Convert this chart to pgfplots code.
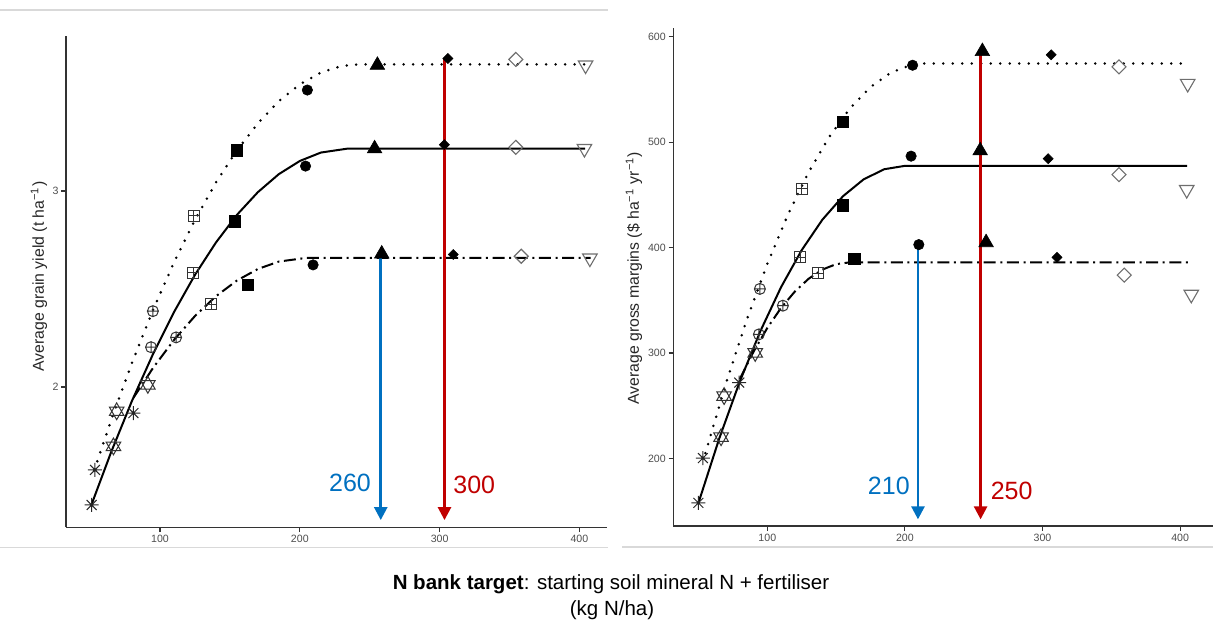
\documentclass[border=0pt]{standalone}
\usepackage{fontspec}
\setmainfont{Liberation Sans}
\usepackage{pgfplots}
\pgfplotsset{compat=1.18}
\usepackage{pgfplotstable}
\usetikzlibrary{arrows.meta}

\definecolor{arrblue}{HTML}{0070C0}
\definecolor{arrred}{HTML}{C00000}
\definecolor{ticktxt}{HTML}{4D4D4D}
\definecolor{axln}{HTML}{333333}
\definecolor{openmk}{HTML}{6E6E6E}

% ---------- custom marks (R pch 8, 11, 10, 12, 18, 5) ----------
\pgfdeclareplotmark{ast8}{%
  \pgfpathmoveto{\pgfpoint{-\pgfplotmarksize}{0pt}}\pgfpathlineto{\pgfpoint{\pgfplotmarksize}{0pt}}%
  \pgfpathmoveto{\pgfpoint{0pt}{-\pgfplotmarksize}}\pgfpathlineto{\pgfpoint{0pt}{\pgfplotmarksize}}%
  \pgfpathmoveto{\pgfpoint{-0.7071\pgfplotmarksize}{-0.7071\pgfplotmarksize}}\pgfpathlineto{\pgfpoint{0.7071\pgfplotmarksize}{0.7071\pgfplotmarksize}}%
  \pgfpathmoveto{\pgfpoint{-0.7071\pgfplotmarksize}{0.7071\pgfplotmarksize}}\pgfpathlineto{\pgfpoint{0.7071\pgfplotmarksize}{-0.7071\pgfplotmarksize}}%
  \pgfusepathqstroke}
\pgfdeclareplotmark{hexa}{%
  \pgfpathmoveto{\pgfpoint{0pt}{\pgfplotmarksize}}%
  \pgfpathlineto{\pgfpoint{-0.866\pgfplotmarksize}{-0.5\pgfplotmarksize}}%
  \pgfpathlineto{\pgfpoint{0.866\pgfplotmarksize}{-0.5\pgfplotmarksize}}%
  \pgfpathclose
  \pgfpathmoveto{\pgfpoint{0pt}{-\pgfplotmarksize}}%
  \pgfpathlineto{\pgfpoint{-0.866\pgfplotmarksize}{0.5\pgfplotmarksize}}%
  \pgfpathlineto{\pgfpoint{0.866\pgfplotmarksize}{0.5\pgfplotmarksize}}%
  \pgfpathclose
  \pgfusepathqstroke}
\pgfdeclareplotmark{cplus}{%
  \pgfpathcircle{\pgfpointorigin}{\pgfplotmarksize}%
  \pgfpathmoveto{\pgfpoint{-\pgfplotmarksize}{0pt}}\pgfpathlineto{\pgfpoint{\pgfplotmarksize}{0pt}}%
  \pgfpathmoveto{\pgfpoint{0pt}{-\pgfplotmarksize}}\pgfpathlineto{\pgfpoint{0pt}{\pgfplotmarksize}}%
  \pgfusepathqstroke}
\pgfdeclareplotmark{splus}{%
  \pgfpathrectangle{\pgfpoint{-\pgfplotmarksize}{-\pgfplotmarksize}}{\pgfpoint{2\pgfplotmarksize}{2\pgfplotmarksize}}%
  \pgfpathmoveto{\pgfpoint{-\pgfplotmarksize}{0pt}}\pgfpathlineto{\pgfpoint{\pgfplotmarksize}{0pt}}%
  \pgfpathmoveto{\pgfpoint{0pt}{-\pgfplotmarksize}}\pgfpathlineto{\pgfpoint{0pt}{\pgfplotmarksize}}%
  \pgfusepathqstroke}
\pgfdeclareplotmark{rdiamf}{%
  \pgfpathmoveto{\pgfpoint{0pt}{\pgfplotmarksize}}%
  \pgfpathlineto{\pgfpoint{\pgfplotmarksize}{0pt}}%
  \pgfpathlineto{\pgfpoint{0pt}{-\pgfplotmarksize}}%
  \pgfpathlineto{\pgfpoint{-\pgfplotmarksize}{0pt}}%
  \pgfpathclose
  \pgfusepathqfillstroke}
\pgfdeclareplotmark{rdiam}{%
  \pgfpathmoveto{\pgfpoint{0pt}{\pgfplotmarksize}}%
  \pgfpathlineto{\pgfpoint{\pgfplotmarksize}{0pt}}%
  \pgfpathlineto{\pgfpoint{0pt}{-\pgfplotmarksize}}%
  \pgfpathlineto{\pgfpoint{-\pgfplotmarksize}{0pt}}%
  \pgfpathclose
  \pgfusepathqstroke}

% ---------- LEFT PANEL: grain yield ----------
\pgfplotstableread{
x y
53 1.575
65 1.830
80 2.124
95 2.393
110 2.636
125 2.852
140 3.043
155 3.207
170 3.345
185 3.458
200 3.544
215 3.604
230 3.638
242 3.646
404 3.646
}\LDot
\pgfplotstableread{
x y
51 1.400
65 1.667
80 1.930
95 2.168
110 2.382
125 2.572
140 2.737
155 2.878
170 2.994
185 3.086
200 3.153
215 3.196
234 3.216
404 3.216
}\LSol
\pgfplotstableread{
x y
81 1.945
95 2.097
110 2.240
125 2.362
140 2.463
155 2.543
170 2.602
185 2.640
205 2.659
408 2.659
}\LDd
\pgfplotstableread{
x y
53.5 1.577
51.1 1.398
81.0 1.867
}\LAst
\pgfplotstableread{
x y
69.0 1.876
66.7 1.697
91.3 2.011
}\LHex
\pgfplotstableread{
x y
94.9 2.387
93.6 2.203
111.5 2.253
}\LCp
\pgfplotstableread{
x y
124.3 2.873
123.8 2.583
136.6 2.421
}\LSp
\pgfplotstableread{
x y
155.0 3.208
153.7 2.845
162.7 2.522
}\LSq
\pgfplotstableread{
x y
205.4 3.515
204.1 3.127
209.5 2.623
}\LCi
\pgfplotstableread{
x y
255.5 3.642
253.5 3.216
258.6 2.679
}\LTr
\pgfplotstableread{
x y
305.9 3.676
303.4 3.236
309.8 2.676
}\LDi
\pgfplotstableread{
x y
354.5 3.671
354.5 3.223
358.4 2.667
}\LOd
\pgfplotstableread{
x y
404.4 3.642
403.6 3.216
407.5 2.657
}\LDt

% ---------- RIGHT PANEL: gross margins ----------
\pgfplotstableread{
x y
55 205.0
70 271.4
85 331.3
100 384.5
115 431.2
130 471.4
145 504.9
160 531.9
175 552.3
190 566.1
205 573.3
214 574.5
405 574.5
}\RDot
\pgfplotstableread{
x y
50 158.0
65 218.7
80 273.0
95 320.9
110 362.5
125 397.6
140 426.4
155 448.7
170 464.7
185 474.3
200 477.5
405 477.5
}\RSol
\pgfplotstableread{
x y
80 275.3
90 301.3
100 323.8
110 342.8
120 358.3
130 370.4
140 379.1
150 384.3
160 386.0
407 386.0
}\RDd
\pgfplotstableread{
x y
53.2 200.4
49.9 157.9
79.6 272.0
}\RAst
\pgfplotstableread{
x y
68.6 259.2
66.4 220.2
91.2 300.1
}\RHex
\pgfplotstableread{
x y
94.6 360.8
93.9 317.7
111.3 344.9
}\RCp
\pgfplotstableread{
x y
125.0 455.7
124.0 390.8
137.1 375.7
}\RSp
\pgfplotstableread{
x y
155.0 519.2
154.6 440.1
163.2 389.7
}\RSq
\pgfplotstableread{
x y
205.6 572.9
204.5 486.7
210.1 402.8
}\RCi
\pgfplotstableread{
x y
256.3 586.0
254.7 491.9
259.0 404.8
}\RTr
\pgfplotstableread{
x y
306.3 582.8
304.1 484.3
310.5 390.7
}\RDi
\pgfplotstableread{
x y
355.6 571.4
355.6 469.2
359.4 373.8
}\ROd
\pgfplotstableread{
x y
405.5 555.5
404.8 454.9
408.1 355.6
}\RDt

\pgfplotsset{
  panel/.style={
    scale only axis, anchor=south west,
    axis lines*=left,
    axis line style={-, draw=axln, line width=0.65pt},
    tick align=outside, major tick length=2.4pt,
    tick style={draw=axln, line width=0.55pt},
    xtick pos=bottom, ytick pos=left,
    ticklabel style={font=\fontsize{5.3}{6}\selectfont, text=ticktxt},
    xticklabel style={inner sep=1.5pt},
    yticklabel style={inner sep=1.2pt},
    /pgf/number format/assume math mode=true,
    xtick={100,200,300,400},
    clip=false,
  },
  dotln/.style={black, line width=1.4pt, line cap=round, dash pattern=on 0pt off 4.75pt},
  solln/.style={black, line width=1.0pt},
  ddln/.style={black, line width=1.0pt, dash pattern=on 6pt off 2.3pt on 1pt off 2.3pt},
  mAst/.style={only marks, mark=ast8, mark size=3.5pt, black!85, line width=0.5pt},
  mHex/.style={only marks, mark=hexa, mark size=4.2pt, black!80, line width=0.5pt},
  mCp/.style={only marks, mark=cplus, mark size=2.75pt, black!80, line width=0.5pt},
  mSp/.style={only marks, mark=splus, mark size=2.75pt, black!80, line width=0.5pt},
  mSq/.style={only marks, mark=square*, mark size=2.8pt, mark options={fill=black, draw=black, line width=0.3pt}},
  mCi/.style={only marks, mark=*, mark size=2.6pt, mark options={fill=black, draw=black, line width=0.3pt}},
  mTr/.style={only marks, mark=triangle*, mark size=4.2pt, mark options={fill=black, draw=black, line width=0.3pt}},
  mDi/.style={only marks, mark=rdiamf, mark size=2.5pt, mark options={fill=black, draw=black, line width=0.3pt}},
  mOd/.style={only marks, mark=rdiam, mark size=3.5pt, openmk, line width=0.55pt},
  mDt/.style={only marks, mark=triangle, mark size=4.2pt, mark options={rotate=180}, openmk, line width=0.55pt},
  arr/.style={line width=1.3pt, -{Triangle[width=6.5pt,length=6.5pt]}},
}

\begin{document}
\begin{tikzpicture}
\useasboundingbox (0pt,0pt) rectangle (606.5pt,312.5pt);
% screenshot borders
\draw[black!15, line width=0.6pt] (0pt,307.5pt) -- (304pt,307.5pt);
\draw[black!15, line width=0.6pt] (0pt,38.75pt) -- (304pt,38.75pt);
\draw[black!15, line width=0.6pt] (311pt,39pt) -- (606.5pt,39pt);

% ================= LEFT =================
\begin{axis}[panel,
  at={(33pt,48.85pt)}, width=270.5pt, height=245.65pt,
  xmin=32.76, xmax=419.74, ymin=1.2842, ymax=3.7908,
  ytick={2,3}]
\addplot[dotln] table {\LDot};
\addplot[solln] table {\LSol};
\addplot[ddln] table {\LDd};
\addplot[mAst] table {\LAst};
\addplot[mHex] table {\LHex};
\addplot[mCp] table {\LCp};
\addplot[mSp] table {\LSp};
\addplot[mSq] table {\LSq};
\addplot[mCi] table {\LCi};
\addplot[mTr] table {\LTr};
\addplot[mDi] table {\LDi};
\addplot[mOd] table {\LOd};
\addplot[mDt] table {\LDt};
\addplot[arr, arrblue] coordinates {(257.9,2.679) (257.9,1.321)};
\addplot[arr, arrred] coordinates {(303.5,3.680) (303.5,1.321)};
\node[text=arrblue, font=\fontsize{12.5}{14}\selectfont, inner sep=0pt] at (axis cs:235.9,1.510) {260};
\node[text=arrred, font=\fontsize{12.5}{14}\selectfont, inner sep=0pt] at (axis cs:324.8,1.500) {300};
\end{axis}

% ================= RIGHT =================
\begin{axis}[panel,
  at={(336.65pt,49.5pt)}, width=269.85pt, height=249.15pt,
  xmin=31.69, xmax=423.9, ymin=136.0, ymax=608.5,
  ytick={200,300,400,500,600}]
\addplot[dotln] table {\RDot};
\addplot[solln] table {\RSol};
\addplot[ddln] table {\RDd};
\addplot[mAst] table {\RAst};
\addplot[mHex] table {\RHex};
\addplot[mCp] table {\RCp};
\addplot[mSp] table {\RSp};
\addplot[mSq] table {\RSq};
\addplot[mCi] table {\RCi};
\addplot[mTr] table {\RTr};
\addplot[mDi] table {\RDi};
\addplot[mOd] table {\ROd};
\addplot[mDt] table {\RDt};
\addplot[arr, arrblue] coordinates {(209.5,403.0) (209.5,142.3)};
\addplot[arr, arrred] coordinates {(255.0,586.0) (255.0,142.3)};
\node[text=arrblue, font=\fontsize{12.5}{14}\selectfont, inner sep=0pt] at (axis cs:188.3,173.6) {210};
\node[text=arrred, font=\fontsize{12.5}{14}\selectfont, inner sep=0pt] at (axis cs:277.6,169.0) {250};
\end{axis}

% axis titles
\node[rotate=90, font=\fontsize{7.9}{9}\selectfont, text=black!85] at (19.5pt,174.2pt) {Average grain yield (t ha\textsuperscript{−1})};
\node[rotate=90, font=\fontsize{7.9}{9}\selectfont, text=black!85] at (317pt,173.3pt) {Average gross margins (\$ ha\textsuperscript{−1} yr\textsuperscript{−1})};

% shared x title
\node[anchor=base, font=\fontsize{10.25}{12}\selectfont] at (305.5pt,17.5pt) {\textbf{N bank target}: starting soil mineral N + fertiliser};
\node[anchor=base, font=\fontsize{10.25}{12}\selectfont] at (306pt,4.5pt) {(kg N/ha)};
\end{tikzpicture}
\end{document}
